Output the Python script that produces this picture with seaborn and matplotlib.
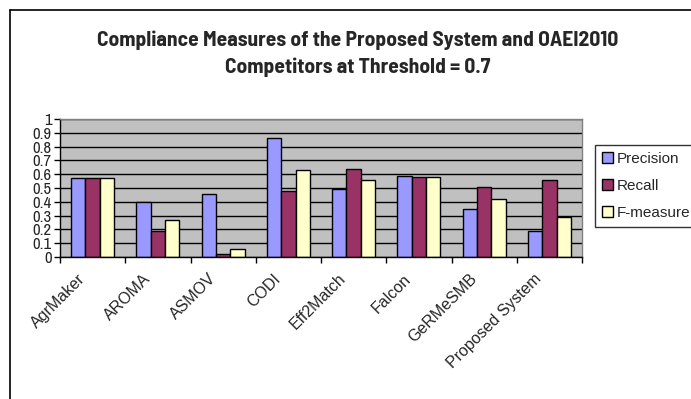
import matplotlib
matplotlib.use("Agg")
import matplotlib.pyplot as plt
from matplotlib.lines import Line2D
from matplotlib.transforms import ScaledTranslation
import numpy as np
import pandas as pd
import seaborn as sns

systems = ["AgrMaker", "AROMA", "ASMOV", "CODI", "Eff2Match", "Falcon", "GeRMeSMB", "Proposed System"]
precision = [0.57, 0.40, 0.46, 0.86, 0.49, 0.59, 0.35, 0.19]
recall = [0.57, 0.19, 0.02, 0.48, 0.64, 0.58, 0.51, 0.56]
f_measure = [0.57, 0.27, 0.06, 0.63, 0.56, 0.58, 0.42, 0.29]
measures = ["Precision", "Recall", "F-measure"]
colors = ["#9999FF", "#993366", "#FFFFCC"]
y_ticks = [0, 0.1, 0.2, 0.3, 0.4, 0.5, 0.6, 0.7, 0.8, 0.9, 1.0]
y_labels = ["0", "0.1", "0.2", "0.3", "0.4", "0.5", "0.6", "0.7", "0.8", "0.9", "1"]

df = pd.DataFrame({
    "System": systems * 3,
    "Measure": [m for m in measures for _ in systems],
    "Value": precision + recall + f_measure,
})

sns.set_style("white")
narrow = ["Archivo Narrow", "DejaVu Sans"]
narrow_bold = ["Barlow Semi Condensed", "DejaVu Sans"]
plain = ["Liberation Sans", "DejaVu Sans"]
plt.rcParams["font.family"] = plain

W, H = 691, 399
fig = plt.figure(figsize=(W / 100, H / 100), dpi=100)
fig.patch.set_facecolor("white")

# outer chart frame
fig.add_artist(Line2D([10 / W, 1.0], [1 - 10 / H, 1 - 10 / H], color="black", lw=1.2, transform=fig.transFigure))
fig.add_artist(Line2D([10 / W, 10 / W], [1 - 10 / H, 0.0], color="black", lw=1.2, transform=fig.transFigure))

ax = fig.add_axes([60 / W, (H - 257) / H, 522 / W, 138 / H])
ax.set_facecolor("#C0C0C0")
ax.set_axisbelow(True)

sns.barplot(data=df, x="System", y="Value", hue="Measure", hue_order=measures,
            palette=colors, width=0.66, gap=0, edgecolor="black", linewidth=1,
            saturation=1, ax=ax, legend=True)

ax.set_ylim(0, 1)
ax.set_xlim(-0.5, len(systems) - 0.5)
ax.set_yticks(y_ticks)
ax.set_yticklabels(y_labels, family=narrow, fontsize=12)
ax.yaxis.grid(True, color="black", lw=1)
ax.tick_params(axis="y", direction="out", length=4, width=1, color="black", pad=2, left=True)

ax.set_xticks(range(len(systems)))
ax.set_xticklabels(systems, rotation=45, ha="right", va="center", rotation_mode="anchor", fontsize=11.5)
ax.tick_params(axis="x", which="major", length=0, pad=14)
shift = ScaledTranslation(-10 / 100, 0, fig.dpi_scale_trans)
for lbl in ax.get_xticklabels():
    lbl.set_transform(lbl.get_transform() + shift)
ax.set_xticks(np.arange(-0.5, len(systems), 1.0), minor=True)
ax.tick_params(axis="x", which="minor", direction="out", length=4, width=1, color="black", bottom=True)

ax.set_xlabel("")
ax.set_ylabel("")
for side in ["left", "bottom"]:
    ax.spines[side].set_color("black")
    ax.spines[side].set_linewidth(1)
for side in ["top", "right"]:
    ax.spines[side].set_color("#808080")
    ax.spines[side].set_linewidth(1)

handles, labels = ax.get_legend_handles_labels()
ax.get_legend().remove()
leg = fig.legend(handles, labels, loc="upper left", bbox_to_anchor=(595 / W, 1 - 145 / H),
                 frameon=True, fancybox=False, edgecolor="black", fontsize=11,
                 handlelength=0.7, handleheight=0.7, handletextpad=0.3,
                 labelspacing=0.85, borderpad=0.45, borderaxespad=0)
leg.get_frame().set_linewidth(1)

fig.text(358 / W, 1 - 40 / H, "Compliance Measures of the Proposed System and OAEI2010",
         ha="center", va="center", fontsize=15.5, fontweight="bold", family=narrow_bold)
fig.text(358 / W, 1 - 67 / H, "Competitors at Threshold = 0.7",
         ha="center", va="center", fontsize=15.5, fontweight="bold", family=narrow_bold)

fig.savefig("out.png", dpi=100)
